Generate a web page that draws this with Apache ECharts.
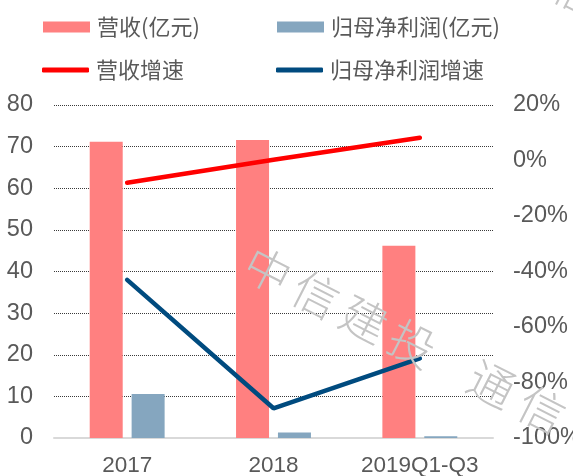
<!DOCTYPE html>
<html>
<head>
<meta charset="utf-8">
<script src="https://cdn.jsdelivr.net/npm/echarts@6/dist/echarts.min.js"></script>
<style>
  html, body { margin: 0; padding: 0; background: #fff; }
  #chart { width: 573px; height: 476px; }
</style>
</head>
<body>
<div id="chart"></div>
<script>
// Periods and figures
var categories = ['2017', '2018', '2019Q1-Q3'];
var revenue = [71.2, 71.6, 46.2];          // 营收(亿元)
var netProfit = [10.6, 1.3, 0.4];          // 归母净利润(亿元)
var revenueGrowth = [-8.0, 0.3, 8.2];      // 营收增速 (%)
var profitGrowth = [-43.0, -89.3, -71.3];  // 归母净利润增速 (%)
var leftTicks = { min: 0, max: 80, interval: 10 };
var rightTicks = { min: -100, max: 20, interval: 20 };

var names = ['营收(亿元)', '归母净利润(亿元)', '营收增速', '归母净利润增速'];
var colors = ['#FF8080', '#85A6BF', '#FF0000', '#004B7F'];

var labelColor = '#595959';
var numFont = '"Liberation Sans", Arial, sans-serif';
var cjkFont = '"Noto Sans CJK SC", sans-serif';

function legendAt(i, left, top, isLine) {
  return {
    data: [names[i]],
    left: left,
    top: top,
    icon: isLine ? 'roundRect' : 'rect',
    itemWidth: 47,
    itemHeight: isLine ? 5 : 11,
    padding: 0,
    itemStyle: { color: colors[i] },
    textStyle: { color: labelColor, fontSize: 22, fontFamily: cjkFont, padding: [0, 0, 0, 2] },
    selectedMode: false
  };
}

// Diagonal watermark, one glyph at a time along a slanted baseline
var wmChars = ['中', '信', '建', '投', '通', '信'];
var wmSteps = [0, 1, 2, 3, 4.65, 5.7];
var wmAngle = 27 * Math.PI / 180;
function wmGlyph(ch, x, y) {
  return {
    type: 'text', x: x, y: y, rotation: -wmAngle, z: 100,
    style: {
      text: ch, fill: '#C4C4C4', font: '300 46px ' + cjkFont,
      align: 'center', verticalAlign: 'middle'
    }
  };
}
var wmGraphics = wmChars.map(function (ch, k) {
  return wmGlyph(ch,
    268 + Math.cos(wmAngle) * 54 * wmSteps[k],
    270 + Math.sin(wmAngle) * 54 * wmSteps[k]);
});
wmGraphics.push(wmGlyph('信', 578, -8));

var chart = echarts.init(document.getElementById('chart'));
chart.setOption({
  animation: false,
  backgroundColor: '#fff',
  legend: [
    legendAt(0, 43, 16, false),
    legendAt(1, 277, 16, false),
    legendAt(2, 42, 59, true),
    legendAt(3, 276, 59, true)
  ],
  grid: { left: 54, right: 80, top: 105, bottom: 38, containLabel: false, outerBoundsMode: 'none' },
  xAxis: {
    type: 'category',
    data: categories,
    axisLine: { lineStyle: { color: '#D9D9D9', width: 2 } },
    axisTick: { show: false },
    axisLabel: { color: labelColor, fontSize: 22.5, fontFamily: numFont, margin: 16, interval: 0 }
  },
  yAxis: [
    {
      type: 'value',
      min: leftTicks.min, max: leftTicks.max, interval: leftTicks.interval,
      axisLine: { show: false },
      axisTick: { show: false },
      axisLabel: { color: labelColor, fontSize: 23.5, fontFamily: numFont, margin: 21 },
      splitLine: { lineStyle: { color: '#3a3a3a', type: [1, 1], width: 1 } }
    },
    {
      type: 'value',
      min: rightTicks.min, max: rightTicks.max, interval: rightTicks.interval,
      axisLine: { show: false },
      axisTick: { show: false },
      axisLabel: { color: labelColor, fontSize: 23.5, fontFamily: numFont, margin: 20, formatter: '{value}%' },
      splitLine: { show: false }
    }
  ],
  series: [
    {
      name: names[0], type: 'bar', data: revenue, barWidth: 33, barGap: '27%',
      itemStyle: { color: colors[0] }
    },
    {
      name: names[1], type: 'bar', data: netProfit, barWidth: 33, barGap: '27%',
      itemStyle: { color: colors[1] }
    },
    {
      name: names[2], type: 'line', yAxisIndex: 1, data: revenueGrowth,
      symbol: 'none', lineStyle: { color: colors[2], width: 4.5, cap: 'round' },
      itemStyle: { color: colors[2] }, z: 5
    },
    {
      name: names[3], type: 'line', yAxisIndex: 1, data: profitGrowth,
      symbol: 'none', lineStyle: { color: colors[3], width: 4.5, cap: 'round' },
      itemStyle: { color: colors[3] }, z: 5
    }
  ],
  graphic: wmGraphics
});
</script>
</body>
</html>
